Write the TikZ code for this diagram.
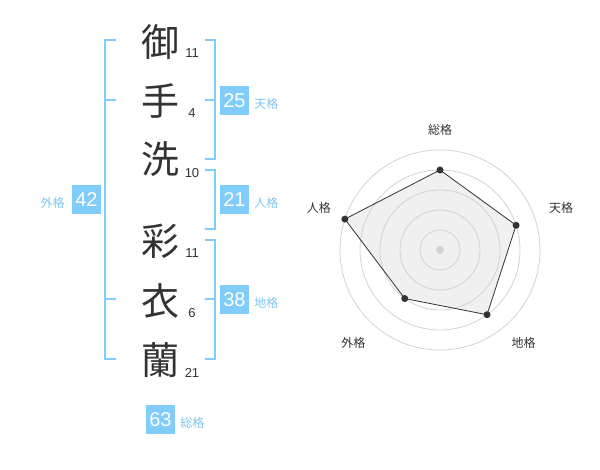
\documentclass[tikz,border=0pt]{standalone}
\usepackage{fontspec}
\setmainfont{Liberation Sans}
\newfontfamily\jpfont{Noto Sans CJK JP}
\usetikzlibrary{calc,positioning}
\definecolor{skyblue}{RGB}{128,204,250}
\definecolor{skytext}{RGB}{125,198,240}
\definecolor{ink}{RGB}{51,51,51}
\definecolor{ringgray}{RGB}{210,210,210}
\definecolor{areagray}{RGB}{240,240,240}
\tikzset{
  kanji/.style={font=\jpfont\fontsize{38}{38}\selectfont,text=ink,inner sep=0pt},
  strokes/.style={font=\fontsize{13}{13}\selectfont,text=ink,inner sep=0pt},
  bracket/.style={draw=skyblue,line width=2pt},
  numbox/.style={fill=skyblue,text=white,font=\fontsize{20}{20}\selectfont,minimum width=29pt,minimum height=29pt,inner sep=0pt},
  kaku/.style={font=\jpfont\fontsize{12}{12}\selectfont,text=skytext,inner sep=0pt},
  axislabel/.style={font=\jpfont\fontsize{12}{12}\selectfont,text=ink,inner sep=0pt},
  ring/.style={draw=ringgray,line width=0.8pt},
  dot/.style={circle,fill=ink,inner sep=0pt,minimum size=7pt}
}
\begin{document}
\begin{tikzpicture}[x=1pt,y=-1pt]
\useasboundingbox (0,0) rectangle (600,470);

\node[kanji] (k1) at (160,42) {御};
\node[kanji] (k2) at (160,101) {手};
\node[kanji] (k3) at (160,159) {洗};
\node[kanji] (k4) at (160,241) {彩};
\node[kanji] (k5) at (160,301) {衣};
\node[kanji] (k6) at (160,360) {蘭};

\node[strokes] (n1) at (192,53) {11};
\node[strokes] (n2) at (192,113) {4};
\node[strokes] (n3) at (192,173) {10};
\node[strokes] (n4) at (192,253) {11};
\node[strokes] (n5) at (192,313) {6};
\node[strokes] (n6) at (192,373) {21};

\coordinate (g0) at (116,40);
\coordinate (g1) at (105,40);
\coordinate (g2) at (105,359);
\coordinate (g3) at (116,359);
\coordinate (g4) at (105,100);
\coordinate (g5) at (116,100);
\coordinate (g6) at (105,299);
\coordinate (g7) at (116,299);
\draw[bracket] (g0) -- (g1) -- (g2) -- (g3) (g4) -- (g5) (g6) -- (g7);

\coordinate (t0) at (205,40);
\coordinate (t1) at (215,40);
\coordinate (t2) at (215,159);
\coordinate (t3) at (205,159);
\coordinate (t4) at (215,100);
\coordinate (t5) at (205,100);
\draw[bracket] (t0) -- (t1) -- (t2) -- (t3) (t4) -- (t5);

\coordinate (j0) at (205,170);
\coordinate (j1) at (215,170);
\coordinate (j2) at (215,229);
\coordinate (j3) at (205,229);
\draw[bracket] (j0) -- (j1) -- (j2) -- (j3);

\coordinate (c0) at (205,240);
\coordinate (c1) at (215,240);
\coordinate (c2) at (215,359);
\coordinate (c3) at (205,359);
\coordinate (c4) at (215,299);
\coordinate (c5) at (205,299);
\draw[bracket] (c0) -- (c1) -- (c2) -- (c3) (c4) -- (c5);

\node[numbox] (ten) at (234.5,100.5) {25};
\node[numbox] (jin) at (234.5,199.5) {21};
\node[numbox] (chi) at (234.5,300) {38};
\node[numbox] (gai) at (86.5,200) {42};
\node[numbox] (sou) at (160.5,419.5) {63};

\node[kaku,right=5pt of ten,yshift=-3pt] (ten label) {天格};
\node[kaku,right=5pt of jin,yshift=-3pt] (jin label) {人格};
\node[kaku,right=5pt of chi,yshift=-3pt] (chi label) {地格};
\node[kaku,left=7pt of gai,yshift=-3pt] (gai label) {外格};
\node[kaku,right=5pt of sou,yshift=-3pt] (sou label) {総格};

\coordinate (o) at (440,250);
\coordinate (p1) at ($(o)+(-90:80)$);
\coordinate (p2) at ($(o)+(-18:80)$);
\coordinate (p3) at ($(o)+(54:80)$);
\coordinate (p4) at ($(o)+(126:60)$);
\coordinate (p5) at ($(o)+(198:100)$);

\fill[areagray] (p1) -- (p2) -- (p3) -- (p4) -- (p5) -- cycle;
\draw[ring] (o) circle[radius=20];
\draw[ring] (o) circle[radius=40];
\draw[ring] (o) circle[radius=60];
\draw[ring] (o) circle[radius=80];
\draw[ring] (o) circle[radius=100];
\fill[ringgray] (o) circle[radius=4];
\draw[ink,line width=0.8pt] (p1) -- (p2) -- (p3) -- (p4) -- (p5) -- cycle;

\node[dot] (sou dot) at (p1) {};
\node[dot] (ten dot) at (p2) {};
\node[dot] (chi dot) at (p3) {};
\node[dot] (gai dot) at (p4) {};
\node[dot] (jin dot) at (p5) {};

\node[axislabel] (sou axis) at ($(o)+(-90:120)$) {総格};
\node[axislabel] (ten axis) at ($(o)+(-19:128)$) {天格};
\node[axislabel] (chi axis) at ($(o)+(48:125)$) {地格};
\node[axislabel] (gai axis) at ($(o)+(133:127)$) {外格};
\node[axislabel] (jin axis) at ($(o)+(199:128)$) {人格};

\end{tikzpicture}
\end{document}
